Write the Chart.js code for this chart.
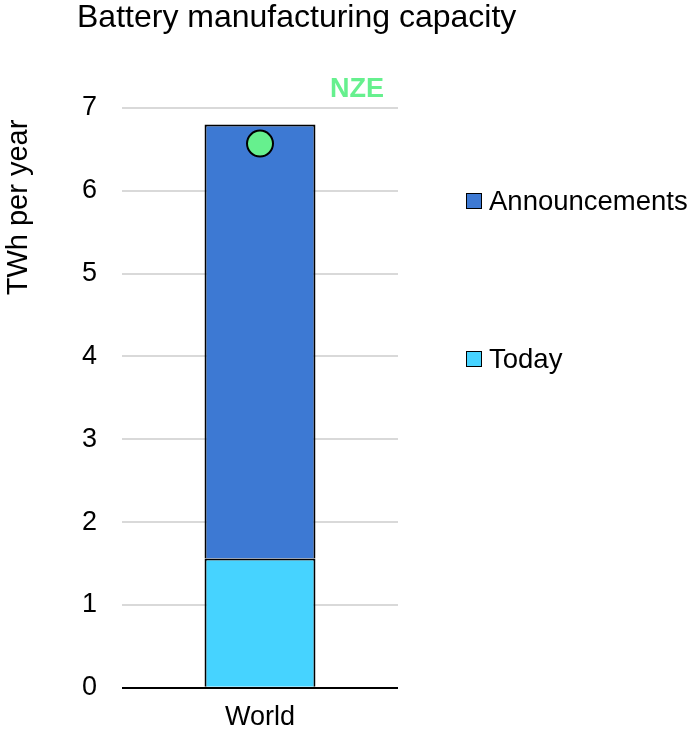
<!DOCTYPE html>
<html>
<head>
<meta charset="utf-8">
<script src="https://cdn.jsdelivr.net/npm/chart.js@4.4.1/dist/chart.umd.min.js"></script>
<style>
  html, body { margin: 0; padding: 0; background: #fff; }
  #wrap { position: relative; width: 689px; height: 729px; font-family: "Liberation Sans", Arial, sans-serif; color: #000; overflow: hidden; }
  #c { position: absolute; left: 0; top: 0; }
  .title { position: absolute; left: 77px; top: 0px; font-size: 32px; line-height: 32px; white-space: nowrap; }
  .leg { position: absolute; left: 466px; font-size: 27.5px; line-height: 30px; white-space: nowrap; display: flex; align-items: center; }
  .sw { width: 14px; height: 14px; border: 1.5px solid #000; margin-right: 7px; flex: none; }
</style>
</head>
<body>
<div id="wrap">
  <canvas id="c" width="689" height="729"></canvas>
  <div class="title">Battery manufacturing capacity</div>
  <div class="leg" style="top:186px"><span class="sw" style="background:#3D79D3"></span>Announcements</div>
  <div class="leg" style="top:344px"><span class="sw" style="background:#46D3FF"></span>Today</div>
</div>
<script>
const categories = ["World"];
const todayValues = [1.56];
const announcementValues = [5.24];
const nzeValues = [6.57];
const yTicks = [0, 1, 2, 3, 4, 5, 6, 7];
const FONT = '"Liberation Sans", Arial, sans-serif';

const extraText = {
  id: 'extraText',
  afterDatasetsDraw(chart) {
    const meta = chart.getDatasetMeta(2);
    const pt = meta.data[0];
    const ctx = chart.ctx;
    ctx.save();
    ctx.font = 'bold 27px ' + FONT;
    ctx.fillStyle = '#66F08E';
    ctx.textAlign = 'left';
    ctx.textBaseline = 'middle';
    ctx.fillText('NZE', pt.x + 70, chart.chartArea.top - 18);
    ctx.restore();
    // y axis title
    ctx.save();
    ctx.font = '29px ' + FONT;
    ctx.fillStyle = '#000';
    ctx.translate(19, 207.5);
    ctx.rotate(-Math.PI / 2);
    ctx.textAlign = 'center';
    ctx.textBaseline = 'middle';
    ctx.fillText('TWh per year', 0, 0);
    ctx.restore();
  }
};

new Chart(document.getElementById('c'), {
  data: {
    labels: categories,
    datasets: [
      { type: 'bar', label: 'Today', data: todayValues, backgroundColor: '#46D3FF', borderColor: '#000', borderWidth: 2, barPercentage: 0.402, categoryPercentage: 1, stack: 's', order: 2 },
      { type: 'bar', label: 'Announcements', data: announcementValues, backgroundColor: '#3D79D3', borderColor: '#000', borderWidth: 2, barPercentage: 0.402, categoryPercentage: 1, stack: 's', order: 2 },
      { type: 'line', label: 'NZE', data: nzeValues, showLine: false, pointRadius: 13, pointBackgroundColor: '#66F08E', pointBorderColor: '#000', pointBorderWidth: 2, stack: 'nze', order: 0 }
    ]
  },
  options: {
    responsive: false,
    animation: false,
    events: [],
    layout: { padding: { top: 108, right: 291, bottom: 0, left: 0 } },
    plugins: { legend: { display: false }, tooltip: { enabled: false }, title: { display: false } },
    scales: {
      x: {
        stacked: true,
        grid: { display: false },
        border: { display: false },
        ticks: { color: '#000', font: { family: FONT, size: 27 }, padding: 6 },
        afterFit(scale) { scale.height = 41; }
      },
      y: {
        stacked: true,
        min: 0, max: 7,
        afterBuildTicks(scale) { scale.ticks = yTicks.map(v => ({ value: v })); },
        grid: {
          drawTicks: false,
          lineWidth: 2,
          color: (c) => (c.tick && c.tick.value === 0) ? '#000' : '#D9D9D9'
        },
        border: { display: false },
        ticks: { color: '#000', font: { family: FONT, size: 27 }, padding: 25 },
        afterFit(scale) { scale.width = 122; }
      }
    }
  },
  plugins: [extraText]
});
</script>
</body>
</html>
